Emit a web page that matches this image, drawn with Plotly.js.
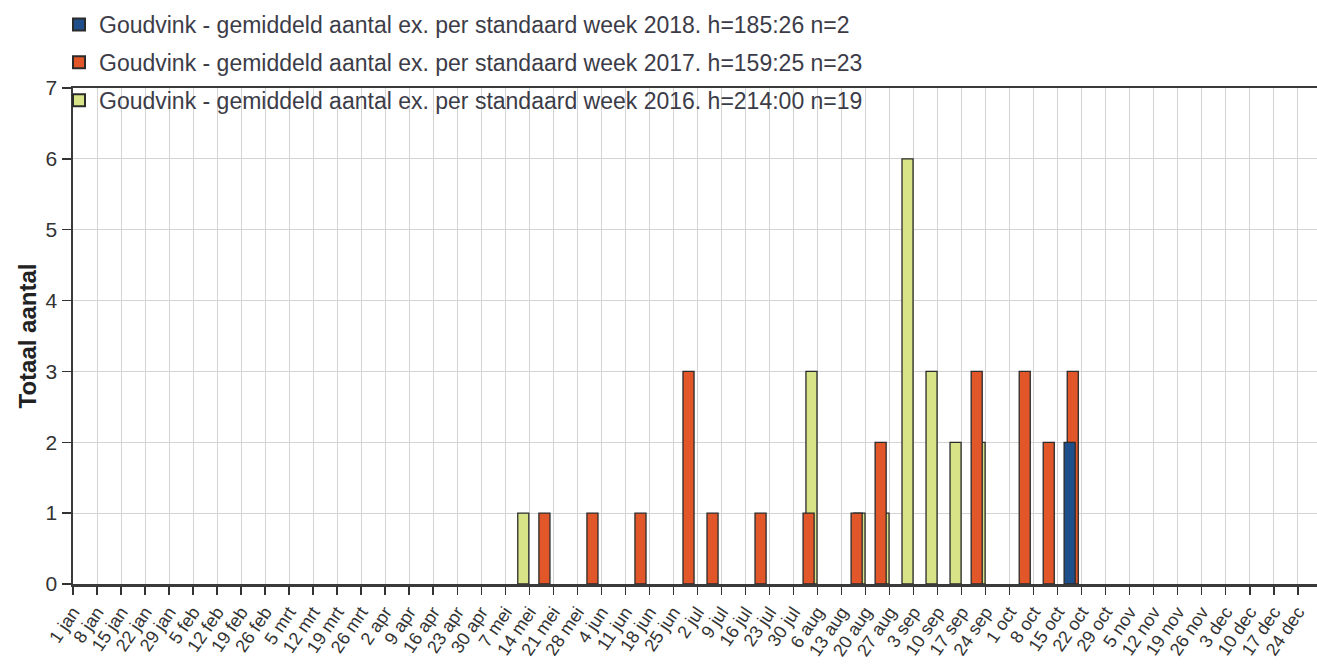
<!DOCTYPE html>
<html>
<head>
<meta charset="utf-8">
<script src="https://cdn.plot.ly/plotly-3.0.1.min.js"></script>
<style>
  html, body { margin: 0; padding: 0; background: #ffffff; }
  #chart { width: 1317px; height: 666px; }
</style>
</head>
<body>
<div id="chart"></div>
<script>
// Week labels (standard weeks)
const weekLabels = [
  '1 jan','8 jan','15 jan','22 jan','29 jan',
  '5 feb','12 feb','19 feb','26 feb',
  '5 mrt','12 mrt','19 mrt','26 mrt',
  '2 apr','9 apr','16 apr','23 apr','30 apr',
  '7 mei','14 mei','21 mei','28 mei',
  '4 jun','11 jun','18 jun','25 jun',
  '2 jul','9 jul','16 jul','23 jul','30 jul',
  '6 aug','13 aug','20 aug','27 aug',
  '3 sep','10 sep','17 sep','24 sep',
  '1 oct','8 oct','15 oct','22 oct','29 oct',
  '5 nov','12 nov','19 nov','26 nov',
  '3 dec','10 dec','17 dec','24 dec'
];

// 2016
const weeks2016  = ['7 mei','30 jul','13 aug','20 aug','27 aug','3 sep','10 sep','17 sep'];
const values2016 = [1, 3, 1, 1, 6, 3, 2, 2];
// 2017
const weeks2017  = ['14 mei','28 mei','11 jun','25 jun','2 jul','16 jul','30 jul','13 aug','20 aug','17 sep','1 oct','8 oct','15 oct'];
const values2017 = [1, 1, 1, 3, 1, 1, 1, 1, 2, 3, 3, 2, 3];
// 2018
const weeks2018  = ['15 oct'];
const values2018 = [2];

const seriesNames = [
  'Goudvink - gemiddeld aantal ex. per standaard week 2016. h=214:00 n=19',
  'Goudvink - gemiddeld aantal ex. per standaard week 2017. h=159:25 n=23',
  'Goudvink - gemiddeld aantal ex. per standaard week 2018. h=185:26 n=2'
];

const pos = w => weekLabels.indexOf(w);
const tickIdx = weekLabels.map((_, i) => i);

const BAR_W = 0.46;
const lineStyle = { color: '#2b2b2b', width: 1.3 };

function barTrace(weeks, vals, name, color, offset, rank, group) {
  return {
    type: 'bar',
    x: weeks.map(pos),
    y: vals,
    name: name,
    legendrank: rank,
    legendgroup: group,
    width: BAR_W,
    offset: offset,
    marker: { color: color, line: lineStyle },
    hoverinfo: 'x+y+name'
  };
}

const data = [
  barTrace(weeks2016, values2016, seriesNames[0], '#d8e387', 0.52, 3, 'y2016'),
  barTrace(weeks2017, values2017, seriesNames[1], '#e2572a', 0.40, 2, 'y2017'),
  barTrace(weeks2018, values2018, seriesNames[2], '#1e4f8a', 0.27, 1, 'y2018')
];

const textFont = 'Liberation Sans, Arial, sans-serif';

const layout = {
  width: 1317,
  height: 666,
  margin: { l: 73, r: 0, t: 88, b: 82, autoexpand: false },
  paper_bgcolor: '#ffffff',
  plot_bgcolor: '#ffffff',
  barmode: 'overlay',
  showlegend: true,
  legend: {
    xref: 'paper', yref: 'paper',
    x: -14 / 1244, y: 1 + 85 / 496,
    xanchor: 'left', yanchor: 'top',
    bgcolor: 'rgba(0,0,0,0)',
    traceorder: 'grouped',
    tracegroupgap: 5,
    itemsizing: 'constant',
    font: { family: textFont, size: 23, color: '#3c3c48' }
  },
  xaxis: {
    type: 'linear',
    range: [0, 51.8],
    tickmode: 'array',
    tickvals: tickIdx,
    ticktext: weekLabels,
    tickangle: -56,
    ticks: 'outside',
    ticklen: 8,
    tickwidth: 1.5,
    tickcolor: '#333333',
    showgrid: true,
    gridcolor: '#d4d4d4',
    gridwidth: 1,
    showline: true,
    linecolor: '#3a3a3a',
    linewidth: 2.5,
    mirror: true,
    zeroline: false,
    automargin: false,
    tickfont: { family: textFont, size: 18, color: '#333333' },
    fixedrange: true
  },
  yaxis: {
    range: [0, 7],
    dtick: 1,
    tick0: 0,
    ticks: 'outside',
    ticklen: 9,
    tickwidth: 1.5,
    tickcolor: '#333333',
    showgrid: true,
    gridcolor: '#d4d4d4',
    gridwidth: 1,
    showline: true,
    linecolor: '#3a3a3a',
    linewidth: 2.5,
    zeroline: false,
    automargin: false,
    tickfont: { family: textFont, size: 21, color: '#333333' },
    title: {
      text: '<b>Totaal aantal</b>',
      font: { family: textFont, size: 24, color: '#222222' },
      standoff: 2
    },
    fixedrange: true
  }
};

Plotly.newPlot('chart', data, layout, { displayModeBar: false, staticPlot: true });
</script>
</body>
</html>
